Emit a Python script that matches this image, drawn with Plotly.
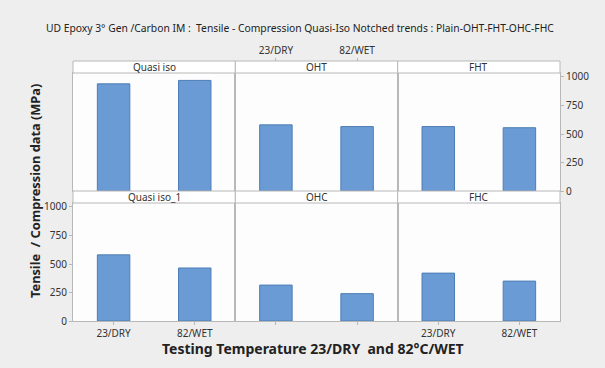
import plotly.graph_objects as go

panels = ["Quasi iso", "OHT", "FHT", "Quasi iso_1", "OHC", "FHC"]
conditions = ["23/DRY", "82/WET"]
quasi_iso = [940, 970]
oht = [580, 565]
fht = [565, 555]
quasi_iso_1 = [580, 465]
ohc = [315, 240]
fhc = [420, 350]
series = [quasi_iso, oht, fht, quasi_iso_1, ohc, fhc]
y_ticks = [0, 250, 500, 750, 1000]

FONT = "Noto Sans"
GRID = "#b8b8b8"
TXT = "#333333"

H_TOT = 260.0
hdr = 12 / H_TOT
plot_h = 118 / H_TOT
bot_dom = [0, plot_h]
top_dom = [plot_h + hdr, plot_h + hdr + plot_h]
x_doms = [[0, 1/3], [1/3, 2/3], [2/3, 1]]

fig = go.Figure()
layout = {}
for i, (name, vals) in enumerate(zip(panels, series)):
    n = i + 1
    sfx = "" if n == 1 else str(n)
    row = 0 if i < 3 else 1
    col = i % 3
    fig.add_trace(go.Bar(
        x=conditions, y=vals, width=0.4,
        marker=dict(color="#6a9bd4", line=dict(color="#4e7db5", width=1)),
        xaxis="x" + sfx, yaxis="y" + sfx, showlegend=False,
        hoverinfo="x+y"))
    ydom = top_dom if row == 0 else bot_dom
    xa = dict(domain=x_doms[col], anchor="y" + sfx, type="category",
              categoryorder="array", categoryarray=conditions,
              range=[-0.5, 1.5], showline=True, mirror=True, linecolor=GRID,
              linewidth=1, showgrid=False, zeroline=False,
              tickfont=dict(family=FONT, size=10, color=TXT),
              showticklabels=False, ticks="", fixedrange=True)
    if name in ("Quasi iso_1", "FHC"):
        xa.update(showticklabels=True, ticks="outside", ticklen=3, tickcolor=GRID)
    if name == "OHC":
        xa.update(ticks="outside", ticklen=3, tickcolor=GRID)
    if name == "OHT":
        xa.update(showticklabels=True, side="top", anchor="free", position=1.0,
                  ticks="outside", ticklen=3, tickcolor=GRID, showline=False)
    ya = dict(domain=ydom, anchor="x" + sfx, range=[0, 1035],
              showline=True, mirror=True, linecolor=GRID, linewidth=1,
              showgrid=False, zeroline=False, showticklabels=False,
              tickvals=y_ticks, tickfont=dict(family=FONT, size=10, color=TXT),
              fixedrange=True)
    if name == "Quasi iso_1":
        ya.update(showticklabels=True, ticks="outside", ticklen=3, tickcolor=GRID)
    if name == "FHT":
        ya.update(showticklabels=True, side="right", ticks="outside", ticklen=3,
                  tickcolor=GRID)
    layout["xaxis" + sfx] = xa
    layout["yaxis" + sfx] = ya

shapes = []
annotations = []
for i, name in enumerate(panels):
    row = 0 if i < 3 else 1
    col = i % 3
    y0 = top_dom[1] if row == 0 else bot_dom[1]
    shapes.append(dict(type="rect", xref="paper", yref="paper",
                       x0=x_doms[col][0], x1=x_doms[col][1], y0=y0, y1=y0 + hdr,
                       fillcolor="white", line=dict(color=GRID, width=1), layer="above"))
    annotations.append(dict(text=name, xref="paper", yref="paper",
                            x=(x_doms[col][0] + x_doms[col][1]) / 2, y=y0 + hdr / 2,
                            showarrow=False, xanchor="center", yanchor="middle",
                            font=dict(family=FONT, size=10, color=TXT)))

annotations.append(dict(
    text="UD Epoxy 3° Gen /Carbon IM :  Tensile - Compression Quasi-Iso Notched trends : Plain-OHT-FHT-OHC-FHC",
    xref="paper", yref="paper", x=0.466, y=(321 - 28) / H_TOT, showarrow=False,
    xanchor="center", yanchor="middle", font=dict(family=FONT, size=10.3, color="#222222")))
annotations.append(dict(
    text="<b>Tensile  / Compression data (MPa)</b>", xref="paper", yref="paper",
    x=(35 - 73) / 487, y=0.5, textangle=-90, showarrow=False,
    xanchor="center", yanchor="middle", font=dict(family=FONT, size=12.8, color="#222222")))
annotations.append(dict(
    text="<b>Testing Temperature 23/DRY  and 82°C/WET</b>", xref="paper", yref="paper",
    x=(313 - 73) / 487, y=(321 - 348) / H_TOT, showarrow=False,
    xanchor="center", yanchor="middle", font=dict(family=FONT, size=14, color="#222222")))

fig.update_layout(**layout)
fig.update_layout(
    width=605, height=368,
    margin=dict(l=73, r=45, t=61, b=47),
    paper_bgcolor="#eeeeee", plot_bgcolor="#fdfdfd",
    shapes=shapes, annotations=annotations, bargap=0.6,
    font=dict(family=FONT, color=TXT),
)
fig.write_html("out.html", config={"displayModeBar": False},
               post_script="document.body.style.margin='0';document.body.style.overflow='hidden';")
